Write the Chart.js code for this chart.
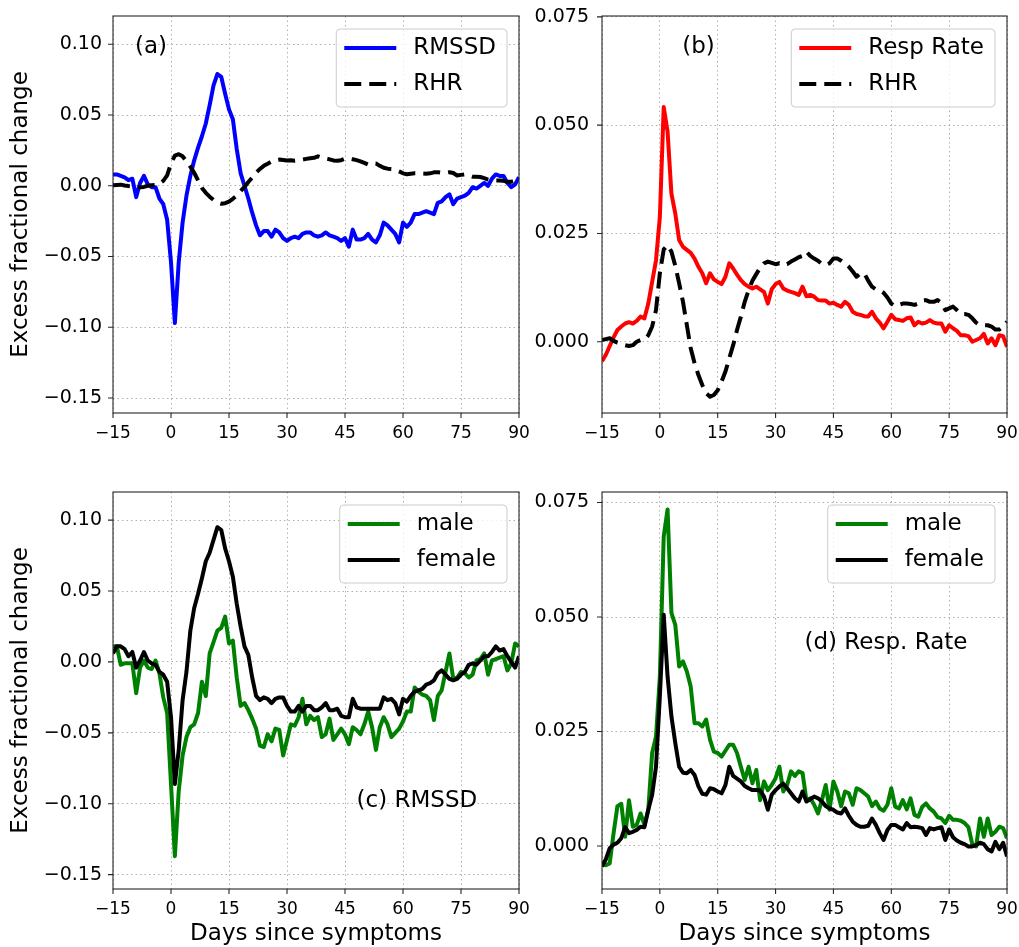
<!DOCTYPE html>
<html>
<head>
<meta charset="utf-8">
<script src="https://cdn.jsdelivr.net/npm/chart.js@4.4.0/dist/chart.umd.min.js"></script>
<style>
  body { margin: 0; background: #fff; }
  #wrap { position: relative; width: 1019px; height: 947px; overflow: hidden; }
  canvas { position: absolute; }
</style>
</head>
<body>
<div id="wrap">
  <canvas id="cA" width="530" height="470" style="left:0;top:0"></canvas>
  <canvas id="cB" width="499" height="470" style="left:520px;top:0"></canvas>
  <canvas id="cC" width="530" height="477" style="left:0;top:470px"></canvas>
  <canvas id="cD" width="499" height="477" style="left:520px;top:470px"></canvas>
</div>
<script>
// days since symptom onset
const days = [-15,-14,-13,-12,-11,-10,-9,-8,-7,-6,-5,-4,-3,-2,-1,
  0,1,2,3,4,5,6,7,8,9,10,11,12,13,14,15,16,17,18,19,20,21,22,23,24,25,26,27,28,29,
  30,31,32,33,34,35,36,37,38,39,40,41,42,43,44,45,46,47,48,49,50,51,52,53,54,55,56,57,58,59,
  60,61,62,63,64,65,66,67,68,69,70,71,72,73,74,75,76,77,78,79,80,81,82,83,84,85,86,87,88,89,90];

// (a) RMSSD, all users
const rmssd = [0.008,0.008,0.007,0.006,0.004,0.005,-0.008,0.002,0.007,0.001,-0.001,-0.001,-0.009,-0.013,-0.024,
  -0.054,-0.097,-0.054,-0.026,-0.007,0.007,0.018,0.027,0.035,0.044,
  0.057,0.071,0.079,0.077,0.065,0.054,0.047,0.026,0.009,0.000,
  -0.009,-0.019,-0.028,-0.035,-0.032,-0.032,-0.036,-0.031,-0.033,-0.037,
  -0.039,-0.037,-0.036,-0.037,-0.034,-0.033,-0.033,-0.035,-0.036,-0.035,
  -0.033,-0.035,-0.036,-0.037,-0.039,-0.037,-0.043,-0.031,-0.038,-0.038,
  -0.037,-0.034,-0.038,-0.040,-0.035,-0.026,-0.028,-0.031,-0.034,-0.040,
  -0.026,-0.029,-0.026,-0.020,-0.020,-0.019,-0.018,-0.019,-0.020,-0.012,
  -0.011,-0.008,-0.006,-0.013,-0.009,-0.008,-0.007,-0.005,-0.001,-0.002,
  0.000,0.002,0.000,0.005,0.008,0.007,0.007,0.002,-0.001,0.001,0.006];

// resting heart rate (same curve in a and b)
const rhr = [0.0004,0.0006,0.0008,0.0002,-0.0002,-0.0005,-0.0008,-0.0010,-0.0008,0.0000,0.0004,0.0005,0.0015,0.0035,0.0073,
  0.0158,0.0213,0.0223,0.0208,0.0175,0.0135,0.0092,0.0038,-0.0015,-0.0050,
  -0.0077,-0.0100,-0.0119,-0.0127,-0.0123,-0.0112,-0.0092,-0.0069,-0.0038,-0.0008,
  0.0027,0.0058,0.0092,0.0119,0.0141,0.0156,0.0171,0.0181,0.0185,0.0182,
  0.0179,0.0181,0.0177,0.0179,0.0185,0.0190,0.0195,0.0198,0.0208,0.0198,
  0.0192,0.0187,0.0179,0.0177,0.0181,0.0192,0.0192,0.0187,0.0181,0.0173,
  0.0162,0.0150,0.0158,0.0158,0.0141,0.0127,0.0121,0.0119,0.0113,0.0102,
  0.0088,0.0082,0.0085,0.0088,0.0088,0.0087,0.0085,0.0088,0.0095,0.0096,
  0.0092,0.0092,0.0096,0.0090,0.0073,0.0077,0.0081,0.0073,0.0064,0.0064,
  0.0062,0.0054,0.0044,0.0038,0.0038,0.0038,0.0035,0.0028,0.0028,0.0036,0.0046];

// (b) respiration rate
const resp = [-0.0045,-0.0030,-0.0010,0.0010,0.0027,0.0035,0.0042,0.0045,0.0042,0.0048,0.0058,0.0054,0.0088,0.0138,0.0188,
  0.0288,0.0542,0.0485,0.0342,0.0296,0.0235,0.0219,0.0212,0.0205,0.0192,
  0.0173,0.0158,0.0135,0.0158,0.0144,0.0138,0.0133,0.0150,0.0181,0.0169,
  0.0155,0.0142,0.0133,0.0127,0.0123,0.0127,0.0121,0.0115,0.0088,0.0121,
  0.0133,0.0138,0.0123,0.0118,0.0115,0.0112,0.0108,0.0127,0.0105,0.0108,
  0.0104,0.0096,0.0095,0.0095,0.0088,0.0090,0.0085,0.0081,0.0092,0.0085,
  0.0069,0.0064,0.0062,0.0059,0.0058,0.0069,0.0054,0.0044,0.0031,0.0046,
  0.0062,0.0052,0.0050,0.0048,0.0054,0.0056,0.0038,0.0046,0.0042,0.0044,
  0.0050,0.0044,0.0042,0.0042,0.0023,0.0038,0.0031,0.0025,0.0015,0.0015,
  0.0013,0.0000,0.0004,0.0008,0.0018,-0.0004,0.0008,-0.0008,0.0015,0.0013,-0.0012];

// (c) RMSSD by sex
const rmssdMale = [0.011,0.011,-0.002,-0.001,-0.001,-0.001,-0.022,-0.004,0.001,-0.004,-0.005,0.001,-0.008,-0.025,-0.036,
  -0.086,-0.137,-0.091,-0.066,-0.053,-0.046,-0.044,-0.036,-0.014,-0.024,
  0.006,0.014,0.022,0.024,0.032,0.013,0.015,-0.011,-0.031,-0.029,
  -0.034,-0.040,-0.047,-0.059,-0.060,-0.051,-0.056,-0.047,-0.048,-0.066,
  -0.055,-0.044,-0.045,-0.039,-0.026,-0.044,-0.038,-0.041,-0.039,-0.053,
  -0.051,-0.040,-0.055,-0.051,-0.047,-0.051,-0.058,-0.046,-0.048,-0.051,
  -0.044,-0.035,-0.046,-0.062,-0.046,-0.039,-0.044,-0.053,-0.050,-0.047,
  -0.042,-0.035,-0.035,-0.018,-0.021,-0.023,-0.024,-0.027,-0.041,-0.024,
  -0.020,-0.007,0.006,-0.012,-0.011,-0.007,-0.008,-0.011,-0.009,0.001,
  0.002,0.006,-0.009,0.001,0.002,0.003,0.004,-0.006,-0.001,0.013,0.011];

const rmssdFemale = [0.006,0.011,0.011,0.009,0.004,0.007,-0.004,0.001,0.007,0.001,-0.001,-0.002,-0.007,-0.009,-0.014,
  -0.039,-0.086,-0.062,-0.027,-0.007,0.022,0.038,0.048,0.059,0.071,
  0.077,0.086,0.095,0.093,0.080,0.071,0.060,0.041,0.025,0.011,
  0.005,-0.011,-0.024,-0.027,-0.025,-0.026,-0.029,-0.026,-0.025,-0.025,
  -0.031,-0.035,-0.035,-0.031,-0.035,-0.031,-0.031,-0.034,-0.034,-0.032,
  -0.029,-0.034,-0.034,-0.033,-0.038,-0.039,-0.039,-0.026,-0.032,-0.033,
  -0.033,-0.033,-0.033,-0.033,-0.033,-0.025,-0.027,-0.026,-0.029,-0.037,
  -0.026,-0.028,-0.024,-0.021,-0.020,-0.019,-0.016,-0.015,-0.013,-0.008,
  -0.006,-0.009,-0.012,-0.013,-0.012,-0.009,-0.007,-0.002,-0.001,-0.002,
  0.001,0.004,0.004,0.007,0.011,0.008,0.009,0.004,0.000,-0.004,0.004];

// (d) resp. rate by sex
const respMale = [-0.0034,-0.0042,-0.0038,0.0028,0.0087,0.0092,0.0020,0.0100,0.0042,0.0046,0.0071,0.0046,0.0079,0.0203,0.0239,
  0.0370,0.0676,0.0735,0.0509,0.0483,0.0392,0.0403,0.0381,0.0348,0.0268,
  0.0268,0.0261,0.0276,0.0232,0.0206,0.0203,0.0195,0.0208,0.0221,0.0221,
  0.0203,0.0173,0.0144,0.0173,0.0137,0.0166,0.0100,0.0141,0.0122,0.0133,
  0.0148,0.0173,0.0119,0.0133,0.0163,0.0153,0.0163,0.0159,0.0100,0.0104,
  0.0090,0.0071,0.0100,0.0133,0.0079,0.0141,0.0119,0.0087,0.0119,0.0115,
  0.0090,0.0126,0.0122,0.0115,0.0108,0.0087,0.0097,0.0082,0.0077,0.0090,
  0.0126,0.0086,0.0082,0.0100,0.0080,0.0104,0.0068,0.0064,0.0085,0.0093,
  0.0082,0.0075,0.0063,0.0060,0.0050,0.0066,0.0057,0.0057,0.0055,0.0050,
  0.0041,0.0004,-0.0001,0.0060,0.0020,0.0060,0.0024,0.0031,0.0042,0.0039,0.0017];

const respFemale = [-0.0045,-0.0029,-0.0005,0.0003,0.0007,0.0017,0.0041,0.0028,0.0031,0.0035,0.0042,0.0041,0.0079,0.0112,0.0173,
  0.0327,0.0505,0.0370,0.0283,0.0225,0.0173,0.0160,0.0159,0.0166,0.0155,
  0.0130,0.0114,0.0112,0.0126,0.0124,0.0119,0.0115,0.0133,0.0173,0.0153,
  0.0147,0.0141,0.0131,0.0126,0.0122,0.0122,0.0121,0.0108,0.0079,0.0112,
  0.0122,0.0130,0.0136,0.0126,0.0115,0.0104,0.0097,0.0119,0.0097,0.0102,
  0.0108,0.0104,0.0097,0.0087,0.0082,0.0079,0.0073,0.0071,0.0082,0.0066,
  0.0053,0.0046,0.0042,0.0042,0.0044,0.0060,0.0046,0.0028,0.0013,0.0035,
  0.0046,0.0046,0.0041,0.0036,0.0050,0.0041,0.0042,0.0041,0.0039,0.0024,
  0.0039,0.0036,0.0039,0.0041,0.0013,0.0036,0.0019,0.0012,0.0007,0.0004,
  -0.0001,-0.0001,0.0002,0.0007,0.0004,-0.0007,-0.0012,0.0009,-0.0007,0.0007,-0.0023];

const xTicksStep = 15;

Chart.defaults.font.family = '"DejaVu Sans", sans-serif';
Chart.defaults.color = '#000';

const minus = s => s.replace('-', '\u2212');

function series(label, vals, color, dashed, order) {
  return {
    label: label,
    data: days.map((d, i) => ({ x: d, y: vals[i] })),
    borderColor: color,
    borderWidth: 4,
    borderDash: dashed ? [17, 8] : [],
    borderJoinStyle: 'round',
    fill: false,
    pointRadius: 0,
    tension: 0,
    order: order
  };
}

// no extra room for overhanging tick labels, the canvases already leave it
function noOverhang(s) {
  s.paddingLeft = 0; s.paddingRight = 0; s.paddingTop = 0; s.paddingBottom = 0;
}

// frame, outward ticks, panel label and an inside legend box
const panelPlugin = {
  id: 'panel',
  afterDraw(chart, args, o) {
    const { ctx, chartArea: a } = chart;
    const xs = chart.scales.x, ys = chart.scales.y;
    ctx.save();
    ctx.strokeStyle = '#262626';
    ctx.lineWidth = 1.1;
    ctx.setLineDash([]);
    ctx.strokeRect(a.left, a.top, a.right - a.left, a.bottom - a.top);
    ctx.beginPath();
    xs.ticks.forEach(t => {
      const p = xs.getPixelForValue(t.value);
      ctx.moveTo(p, a.bottom); ctx.lineTo(p, a.bottom + 5);
    });
    ys.ticks.forEach(t => {
      const p = ys.getPixelForValue(t.value);
      ctx.moveTo(a.left, p); ctx.lineTo(a.left - 5, p);
    });
    ctx.stroke();

    ctx.font = '23px "DejaVu Sans"';
    ctx.fillStyle = '#000';
    ctx.textAlign = 'left';
    ctx.textBaseline = 'middle';
    ctx.fillText(o.note, a.left + o.noteX * (a.right - a.left), a.top + o.noteY * (a.bottom - a.top));

    const sets = chart.data.datasets;
    const tw = Math.max(...sets.map(d => ctx.measureText(d.label).width));
    const bw = 77 + tw + 11, bh = 78;
    const bx = a.right - 12 - bw, by = a.top + 13;
    ctx.beginPath();
    ctx.roundRect(bx, by, bw, bh, 4);
    ctx.fillStyle = 'rgba(255,255,255,0.8)';
    ctx.fill();
    ctx.strokeStyle = '#cccccc';
    ctx.lineWidth = 1;
    ctx.stroke();
    sets.forEach((d, i) => {
      const ly = by + 19 + i * 36;
      ctx.beginPath();
      ctx.setLineDash(d.borderDash);
      ctx.strokeStyle = d.borderColor;
      ctx.lineWidth = d.borderWidth;
      ctx.lineCap = 'butt';
      ctx.moveTo(bx + 8, ly); ctx.lineTo(bx + 60, ly);
      ctx.stroke();
      ctx.setLineDash([]);
      ctx.fillStyle = '#000';
      ctx.fillText(d.label, bx + 77, ly);
    });
    ctx.restore();
  }
};

function makePanel(id, datasets, o) {
  new Chart(document.getElementById(id), {
    type: 'line',
    data: { datasets: datasets },
    options: {
      responsive: false,
      animation: false,
      devicePixelRatio: 1,
      layout: { padding: { top: o.padTop, right: o.padRight, left: 0, bottom: 0 } },
      plugins: {
        legend: { display: false },
        tooltip: { enabled: false },
        panel: { note: o.note, noteX: o.noteX, noteY: o.noteY }
      },
      scales: {
        x: {
          type: 'linear', min: -15, max: 90,
          ticks: {
            stepSize: xTicksStep, includeBounds: false, padding: 10, maxRotation: 0, autoSkip: false,
            font: { size: 17 }, color: '#000',
            callback: v => minus(String(Math.round(v)))
          },
          grid: { color: '#b0b0b0', lineWidth: 1, drawTicks: false },
          border: { display: false, dash: [1.5, 3] },
          title: { display: o.xTitle, text: 'Days since symptoms', font: { size: 23, lineHeight: 1.15 }, color: '#000', padding: { top: 0, bottom: 0 } },
          afterFit: s => { s.height = o.xH; noOverhang(s); }
        },
        y: {
          min: o.yMin, max: o.yMax,
          ticks: {
            stepSize: o.yStep, includeBounds: false, padding: o.yPad,
            font: { size: 19 }, color: '#000',
            callback: v => minus(v.toFixed(o.dec))
          },
          grid: { color: '#b0b0b0', lineWidth: 1, drawTicks: false },
          border: { display: false, dash: [1.5, 3] },
          title: { display: o.yTitle, text: 'Excess fractional change', font: { size: 23 }, color: '#000', padding: { top: 7, bottom: 0 } },
          afterFit: s => { s.width = o.yW; noOverhang(s); }
        }
      }
    },
    plugins: [panelPlugin]
  });
}

makePanel('cA', [series('RMSSD', rmssd, '#0000ff', false, 1), series('RHR', rhr, '#000000', true, 0)], {
  padTop: 16, padRight: 11, xH: 57, yW: 113, yPad: 11, yMin: -0.1606, yMax: 0.1200, yStep: 0.05, dec: 2,
  xTitle: false, yTitle: true, note: '(a)', noteX: 0.054, noteY: 0.078
});
makePanel('cB', [series('Resp Rate', resp, '#ff0000', false, 1), series('RHR', rhr, '#000000', true, 0)], {
  padTop: 16, padRight: 12, xH: 57, yW: 82, yPad: 13, yMin: -0.01646, yMax: 0.0752, yStep: 0.025, dec: 3,
  xTitle: false, yTitle: false, note: '(b)', noteX: 0.198, noteY: 0.078
});
makePanel('cC', [series('male', rmssdMale, '#008000', false, 1), series('female', rmssdFemale, '#000000', false, 0)], {
  padTop: 22, padRight: 11, xH: 58, yW: 113, yPad: 11, yMin: -0.1601, yMax: 0.1198, yStep: 0.05, dec: 2,
  xTitle: true, yTitle: true, note: '(c) RMSSD', noteX: 0.60, noteY: 0.778
});
makePanel('cD', [series('male', respMale, '#008000', false, 1), series('female', respFemale, '#000000', false, 0)], {
  padTop: 22, padRight: 12, xH: 58, yW: 82, yPad: 13, yMin: -0.0094, yMax: 0.0773, yStep: 0.025, dec: 3,
  xTitle: true, yTitle: false, note: '(d) Resp. Rate', noteX: 0.50, noteY: 0.38
});
</script>
</body>
</html>
